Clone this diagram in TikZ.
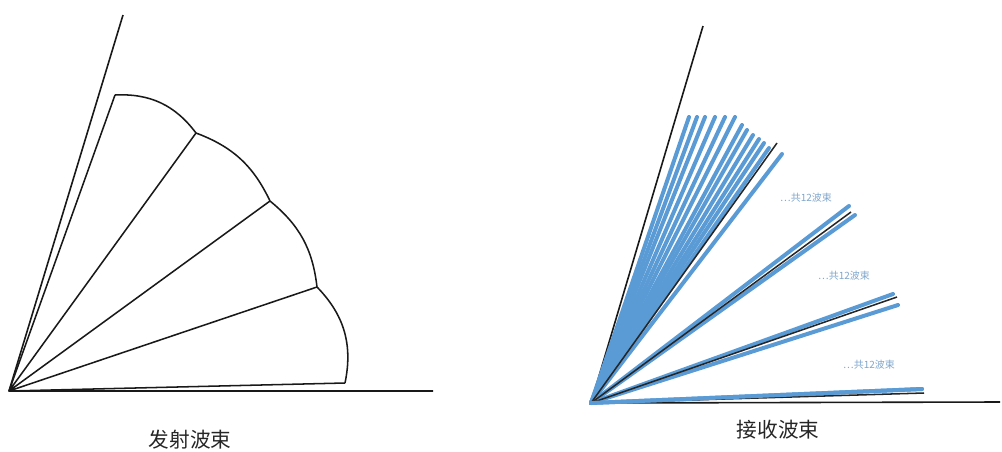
\documentclass[tikz,border=0pt]{standalone}
\usepackage{fontspec}
\newfontfamily\cjk{Noto Sans CJK SC}
\definecolor{beam}{HTML}{5B9BD5}
\definecolor{beamtext}{HTML}{7FA6CC}
\tikzset{
  axisline/.style={draw=black!90,line width=1.2pt,line join=round},
  rayline/.style={draw=black!90,line width=1.15pt,line join=round},
  bluebeam/.style={draw=beam,line width=3pt,line cap=round},
  captext/.style={font=\cjk\fontsize{15.5pt}{18pt}\selectfont,text=black!85,inner sep=0pt},
  smalltext/.style={font=\cjk\fontsize{7.5pt}{9pt}\selectfont,text=beamtext,inner sep=0pt}
}
\begin{document}
\begin{tikzpicture}[x=0.75pt,y=-0.75pt]
\useasboundingbox (0,0) rectangle (1002,451);
% left
\coordinate (L) at (9,391);
\coordinate (Ltop) at (123,15);
\coordinate (Lright) at (433,391);
\coordinate (A) at (115,95);
\coordinate (B) at (196,133);
\coordinate (C) at (270,201);
\coordinate (D) at (317,287);
\coordinate (E) at (345,383);
\draw[axisline] (Ltop) -- (L) -- (Lright);
\draw[rayline] (A) -- (L) -- (B) (L) -- (C) (L) -- (D) (L) -- (E);
\draw[rayline] (A) to[bend left=28] (B) to[bend left=22] (C) to[bend left=22] (D) to[bend left=28] (E);
\node[captext] (lcap) at (190,440) {发射波束};
% right
\coordinate (R) at (591,403);
\coordinate (Rtop) at (703,26);
\coordinate (Rright) at (1000,402);
\draw[axisline] (Rtop) -- (R) -- (Rright);
\foreach \n/\x/\y in {a/689/117,b/697/117,c/705/117,d/715/117,e/725/117,f/735/117,g/742/125,h/747/130,i/753/135,j/759/139,k/764/143,l/769/148,m/782/154,n/849/206,o/855/215,p/893/294,q/898/305,r/922/389}{
  \coordinate (t\n) at (\x,\y);
  \draw[bluebeam] (R) -- (t\n);
}
\foreach \n/\x/\y in {s/777/143,t/851/212,u/897/297,v/924/393}{
  \coordinate (b\n) at (\x,\y);
  \draw[rayline,draw=black!85] (R) -- (b\n);
}
\draw[bluebeam] (R) -- (tr);
\node[smalltext] (s1) at (806,198) {…共12波束};
\node[smalltext] (s2) at (844,276) {…共12波束};
\node[smalltext] (s3) at (869,365) {…共12波束};
\node[captext] (rcap) at (778,430) {接收波束};
\end{tikzpicture}
\end{document}
